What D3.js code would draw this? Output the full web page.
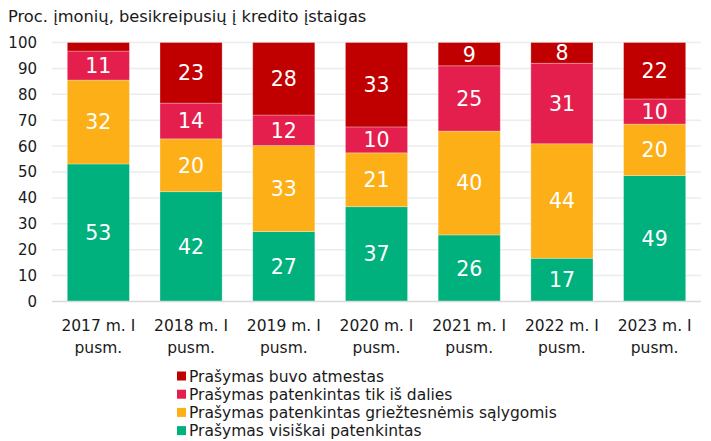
<!DOCTYPE html>
<html>
<head>
<meta charset="utf-8">
<title>Kredito prašymai</title>
<script src="https://d3js.org/d3.v7.min.js"></script>
<style type="text/css">
	body{ margin:0; background:white; }
	svg text{ font-family: Verdana, "DejaVu Sans", sans-serif; fill:#1a1a1a; }
	.grid line{ stroke:#ececec; stroke-width:1.5; }
	.baseline{ stroke:#d9d9d9; stroke-width:1.5; }
	.barLabel{ fill:white !important; font-size:20.5px; }
</style>
</head>
<body>
<svg id="chart" width="711" height="441"></svg>
<script>
	// duomenys
	var categories = ["2017 m. I pusm.", "2018 m. I pusm.", "2019 m. I pusm.", "2020 m. I pusm.",
		"2021 m. I pusm.", "2022 m. I pusm.", "2023 m. I pusm."];
	var visiskai = [53.1, 42.4, 27.0, 36.6, 25.7, 16.7, 48.6];
	var grieztesnemis = [32.4, 20.4, 33.2, 20.8, 40.1, 44.2, 19.9];
	var dalies = [11.2, 13.8, 11.8, 10.0, 25.2, 31.1, 9.7];
	var atmestas = [3.3, 23.4, 28.0, 32.6, 9.0, 8.0, 21.8];
	var yTicks = [0, 10, 20, 30, 40, 50, 60, 70, 80, 90, 100];

	var seriesNames = ["Prašymas visiškai patenkintas", "Prašymas patenkintas griežtesnėmis sąlygomis",
		"Prašymas patenkintas tik iš dalies", "Prašymas buvo atmestas"];
	var seriesValues = [visiskai, grieztesnemis, dalies, atmestas];
	var colors = ["#00b17e", "#fcaf17", "#e41f4e", "#c00000"];

	var svg = d3.select("#chart");

	var x = d3.scaleBand()
		.domain(categories)
		.range([52, 701])
		.paddingInner(0.33)
		.paddingOuter(0.165);
	var y = d3.scaleLinear().domain([0, 100]).range([301.5, 42.5]);

	// title
	svg.append("text")
		.attr("x", 8).attr("y", 22)
		.style("font-size", "16.3px")
		.text("Proc. įmonių, besikreipusių į kredito įstaigas");

	// grid
	svg.append("g").attr("class", "grid")
		.selectAll("line").data(yTicks.filter(function(d){ return d > 0; }))
		.enter().append("line")
		.attr("x1", 52).attr("x2", 701)
		.attr("y1", function(d){ return y(d); })
		.attr("y2", function(d){ return y(d); });

	svg.selectAll(".ytick").data(yTicks)
		.enter().append("text")
		.attr("class", "ytick")
		.attr("x", 37)
		.attr("y", function(d){ return y(d); })
		.attr("dy", "0.36em")
		.attr("text-anchor", "end")
		.style("font-size", "15px")
		.text(function(d){ return d; });

	// stacked rows
	var rows = categories.map(function(c, i){
		var r = { cat: c };
		seriesNames.forEach(function(s, j){ r[s] = seriesValues[j][i]; });
		return r;
	});
	var stacked = d3.stack().keys(seriesNames)(rows);

	var layers = svg.selectAll(".layer").data(stacked)
		.enter().append("g")
		.attr("class", "layer")
		.attr("fill", function(d, i){ return colors[i]; });

	layers.selectAll("rect").data(function(d){ return d; })
		.enter().append("rect")
		.attr("x", function(d){ return x(d.data.cat); })
		.attr("width", x.bandwidth())
		.attr("y", function(d){ return y(d[1]); })
		.attr("height", function(d){ return y(d[0]) - y(d[1]); })
		.attr("stroke", "rgba(255,255,255,0.35)")
		.attr("stroke-width", 0.8);

	layers.selectAll("text").data(function(d){ return d.filter(function(p){ return p[1] - p[0] >= 5; }); })
		.enter().append("text")
		.attr("class", "barLabel")
		.attr("x", function(d){ return x(d.data.cat) + x.bandwidth() / 2; })
		.attr("y", function(d){ return y((d[0] + d[1]) / 2); })
		.attr("dy", "0.36em")
		.attr("text-anchor", "middle")
		.text(function(d){ return Math.round(d[1] - d[0]); });

	svg.append("line").attr("class", "baseline")
		.attr("x1", 52).attr("x2", 701)
		.attr("y1", y(0)).attr("y2", y(0));

	// x labels, two lines
	svg.selectAll(".xlab").data(categories)
		.enter().append("text")
		.attr("class", "xlab")
		.attr("text-anchor", "middle")
		.style("font-size", "15.5px")
		.each(function(d){
			var parts = d.split(" ");
			var t = d3.select(this);
			var cx = x(d) + x.bandwidth() / 2;
			t.append("tspan").attr("x", cx).attr("y", 331).text(parts.slice(0, 3).join(" "));
			t.append("tspan").attr("x", cx).attr("y", 353).text(parts.slice(3).join(" "));
		});

	// legend (reverse order)
	var legend = svg.append("g");
	var legendItems = seriesNames.map(function(s, i){ return { name: s, color: colors[i] }; }).reverse();
	legendItems.forEach(function(it, i){
		var cy = 376 + i * 18.2;
		legend.append("rect")
			.attr("x", 177).attr("y", cy - 4.5)
			.attr("width", 9).attr("height", 9)
			.attr("fill", it.color);
		legend.append("text")
			.attr("x", 189).attr("y", cy)
			.attr("dy", "0.36em")
			.style("font-size", "15.5px")
			.text(it.name);
	});
</script>
</body>
</html>
